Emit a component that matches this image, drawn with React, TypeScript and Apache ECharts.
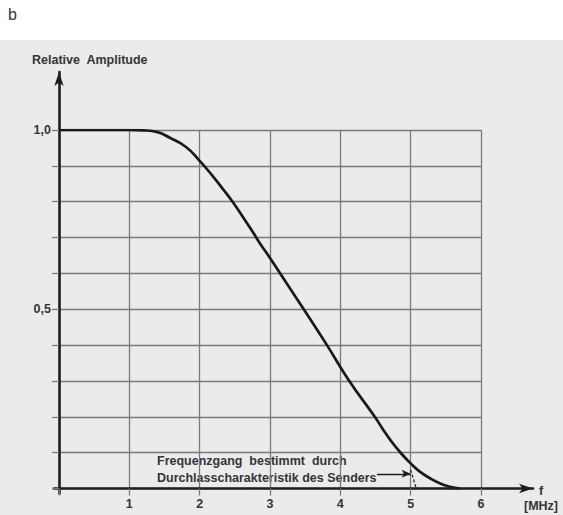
import React, { useEffect, useRef } from "react";
import * as echarts from "echarts";

// Frequency (MHz) and relative amplitude
const freq = [0, 0.5, 1.0, 1.2, 1.4, 1.57, 1.81, 2.0, 2.18, 2.32, 2.46, 2.61, 2.76, 2.86, 3.0, 3.15, 3.48, 3.81, 4.12, 4.49, 4.6, 4.72, 4.86, 5.0, 5.13, 5.28, 5.42, 5.56, 5.7];
const amplitude = [1.0, 1.0, 1.0, 0.999, 0.994, 0.979, 0.952, 0.914, 0.873, 0.838, 0.802, 0.759, 0.714, 0.683, 0.643, 0.598, 0.5, 0.4, 0.302, 0.2, 0.167, 0.133, 0.099, 0.07, 0.047, 0.028, 0.014, 0.005, 0.0];

const xTickLabels = ["", "1", "2", "3", "4", "5", "6"];
const yTickLabels: Record<string, string> = { "0.5": "0,5", "1": "1,0" };

const annotationLines = ["Frequenzgang  bestimmt  durch", "Durchlasscharakteristik des Senders"];
// annotation arrow pointing at f = 5 MHz and dashed drop line to the axis
const arrowFrom = [4.52, 0.041];
const arrowTo = [5.0, 0.041];
const dashFrom = [5.0, 0.052];
const dashTo = [5.08, 0.0];

const FONT = "'Liberation Sans', Arial, sans-serif";

export default function App() {
  const ref = useRef<HTMLDivElement>(null);
  useEffect(() => {
    if (!ref.current) return;
    const chart = echarts.init(ref.current, undefined, { renderer: "svg" });
    const gridColor = "#7a7a7a";
    const axisColor = "#1e1e1e";
    const textColor = "#353535";
    chart.setOption({
      animation: false,
      backgroundColor: "#ffffff",
      graphic: [
        { type: "rect", z: -10, shape: { x: 0, y: 40, width: 563, height: 475 }, style: { fill: "#ebebeb" } },
        { type: "text", left: 8, top: 6, style: { text: "b", font: `16px ${FONT}`, fill: textColor } },
        { type: "text", left: 32, top: 53, style: { text: "Relative  Amplitude", font: `bold 12.5px ${FONT}`, fill: textColor } },
        { type: "text", left: 539, top: 484, style: { text: "f", font: `bold 12.5px ${FONT}`, fill: textColor } },
        { type: "text", left: 524, top: 499, style: { text: "[MHz]", font: `bold 12.5px ${FONT}`, fill: textColor } },
        { type: "text", left: 157, top: 454, style: { text: annotationLines[0], font: `bold 12.5px ${FONT}`, fill: textColor } },
        { type: "text", left: 157, top: 471, style: { text: annotationLines[1], font: `bold 12.5px ${FONT}`, fill: textColor } },
      ],
      grid: [
        { left: 59, right: 82, top: 130, bottom: 26.5 },
        { left: 54, right: 30, top: 72, bottom: 21.5 },
      ],
      xAxis: [
        {
          gridIndex: 0, type: "value", min: 0, max: 6, interval: 1,
          axisLine: { show: false },
          axisTick: { show: true, length: 7, lineStyle: { color: gridColor, width: 1.3 } },
          axisLabel: {
            margin: 9, color: textColor, fontFamily: FONT, fontSize: 12.5, fontWeight: "bold",
            formatter: (v: number) => xTickLabels[Math.round(v)] ?? "",
          },
          splitLine: { show: true, lineStyle: { color: gridColor, width: 1.3 } },
        },
        {
          gridIndex: 1, type: "value", min: -5 / 70.3, max: (533 - 59) / 70.3,
          axisLine: { show: true, onZero: true, symbol: ["none", "arrow"], symbolSize: [7, 14], lineStyle: { color: axisColor, width: 2.6 } },
          axisTick: { show: false }, axisLabel: { show: false }, splitLine: { show: false },
        },
      ],
      yAxis: [
        {
          gridIndex: 0, type: "value", min: 0, max: 1, interval: 0.1,
          axisLine: { show: false },
          axisTick: { show: true, length: 7, lineStyle: { color: gridColor, width: 1.3 } },
          axisLabel: {
            margin: 8, color: textColor, fontFamily: FONT, fontSize: 12.5, fontWeight: "bold",
            formatter: (v: number) => yTickLabels[String(Math.round(v * 10) / 10)] ?? "",
          },
          splitLine: { show: true, lineStyle: { color: gridColor, width: 1.3 } },
        },
        {
          gridIndex: 1, type: "value", min: -5 / 358.5, max: (488.5 - 72) / 358.5,
          axisLine: { show: true, onZero: true, symbol: ["none", "arrow"], symbolSize: [7, 14], lineStyle: { color: axisColor, width: 2.6 } },
          axisTick: { show: false }, axisLabel: { show: false }, splitLine: { show: false },
        },
      ],
      series: [
        {
          type: "line",
          xAxisIndex: 0, yAxisIndex: 0,
          data: freq.map((f, i) => [f, amplitude[i]]),
          symbol: "none",
          smooth: 0.5,
          lineStyle: { color: "#1a1a1a", width: 2.7 },
          z: 5,
          markLine: {
            silent: true,
            label: { show: false },
            data: [
              [
                { coord: arrowFrom, symbol: "none", lineStyle: { color: axisColor, width: 1.4, type: "solid" } },
                { coord: arrowTo, symbol: "arrow", symbolSize: [6, 9] },
              ],
              [
                { coord: dashFrom, symbol: "none", lineStyle: { color: axisColor, width: 1.2, type: [3, 2] } },
                { coord: dashTo, symbol: "none" },
              ],
            ],
          },
        },
      ],
    });
    return () => chart.dispose();
  }, []);
  return <div ref={ref} style={{ position: "fixed", left: 0, top: 0, width: 563, height: 515 }} />;
}
